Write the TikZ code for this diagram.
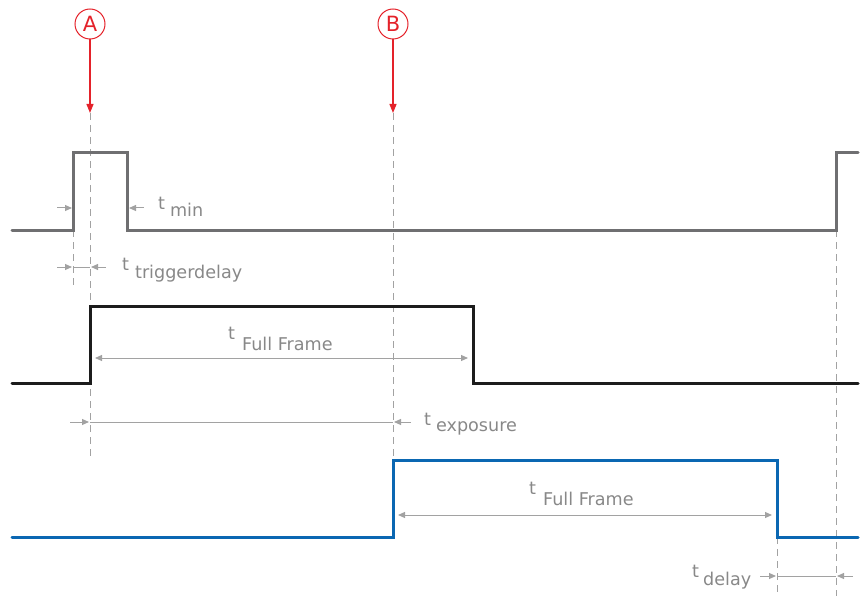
\documentclass[tikz,border=0pt]{standalone}
\usepackage{fontspec}
\setmainfont{DejaVu Sans}
\usetikzlibrary{arrows.meta}
\definecolor{sigGray}{HTML}{6F6F71}
\definecolor{sigBlack}{HTML}{1C1C1C}
\definecolor{sigBlue}{HTML}{0A67B2}
\definecolor{dimGray}{HTML}{A2A2A2}
\definecolor{txtGray}{HTML}{888888}
\definecolor{mkRed}{HTML}{E4222A}
% time label: "t" followed by a lowered name
\newcommand\tlab[3]{t\hspace{#1}\raisebox{-#2}{#3}}
\begin{document}
\begin{tikzpicture}[x=1pt,y=-1pt,
  signal/.style={line width=3pt, line join=miter, line cap=round},
  guide/.style={draw=dimGray, line width=1pt, dash pattern=on 7pt off 5pt},
  dimline/.style={draw=dimGray, line width=1pt},
  dimtip/.style={dimline, -{Triangle[length=7pt,width=6pt]}},
  dimboth/.style={dimline, {Triangle[length=7pt,width=6pt]}-{Triangle[length=7pt,width=6pt]}},
  lbl/.style={text=txtGray, font=\fontsize{17.6}{20}\selectfont, inner sep=0pt, anchor=base west},
  marker/.style={circle, draw=mkRed, line width=1pt, minimum size=30pt, inner sep=0pt,
    text=mkRed, font=\fontsize{21}{24}\selectfont},
  markarrow/.style={draw=mkRed, line width=1.2pt, -{Triangle[length=9pt,width=7pt]}}]
\useasboundingbox (0,0) rectangle (867,596);

% trigger markers
\node[marker] (mA) at (90,24) {A};
\node[marker] (mB) at (393,24) {B};
\coordinate (tipA) at (90,113);
\coordinate (tipB) at (393,113);
\draw[markarrow] (mA) -- (tipA);
\draw[markarrow] (mB) -- (tipB);

% vertical guide lines
\coordinate (gA0) at (90,113);  \coordinate (gA1) at (90,460);
\coordinate (gB0) at (393,113); \coordinate (gB1) at (393,460);
\coordinate (gR0) at (73,230);  \coordinate (gR1) at (73,286);
\coordinate (gE0) at (777,537); \coordinate (gE1) at (777,596);
\coordinate (gN0) at (836,230); \coordinate (gN1) at (836,596);
\draw[guide] (gA0) -- (gA1);
\draw[guide] (gB0) -- (gB1);
\draw[guide] (gR0) -- (gR1);
\draw[guide] (gE0) -- (gE1);
\draw[guide] (gN0) -- (gN1);

% trigger signal
\draw[signal, draw=sigGray] (12,230) -- (73,230) -- (73,153) -- (127,153) -- (127,230)
  -- (836,230) -- (836,153) -- (858,153);
% readout signal
\draw[signal, draw=sigBlack] (12,383) -- (90,383) -- (90,306) -- (473,306) -- (473,383) -- (858,383);
% second readout signal
\draw[signal, draw=sigBlue] (12,537) -- (393,537) -- (393,460) -- (777,460) -- (777,537) -- (858,537);

% t_min
\coordinate (m0) at (57,208);  \coordinate (m1) at (72,208);
\coordinate (m2) at (144,208); \coordinate (m3) at (129,208);
\draw[dimtip] (m0) -- (m1);
\draw[dimtip] (m2) -- (m3);
\node[lbl] (lmin) at (158,210) {\tlab{5pt}{7pt}{min}};

% t_triggerdelay
\coordinate (d0) at (57,267); \coordinate (d1) at (72,267);
\coordinate (d2) at (73,267); \coordinate (d3) at (90,267);
\coordinate (d4) at (106,267); \coordinate (d5) at (91,267);
\draw[dimtip] (d0) -- (d1);
\draw[dimline] (d2) -- (d3);
\draw[dimtip] (d4) -- (d5);
\node[lbl] (ltrig) at (122,270) {\tlab{6pt}{8pt}{triggerdelay}};

% t_Full Frame (first)
\coordinate (f0) at (95,358); \coordinate (f1) at (468,358);
\draw[dimboth] (f0) -- (f1);
\node[lbl] (lff1) at (228,339) {\tlab{7pt}{11pt}{Full Frame}};

% t_exposure
\coordinate (e0) at (70,422); \coordinate (e1) at (89,422);
\coordinate (e2) at (90,422); \coordinate (e3) at (393,422);
\coordinate (e4) at (411,422); \coordinate (e5) at (394,422);
\draw[dimtip] (e0) -- (e1);
\draw[dimline] (e2) -- (e3);
\draw[dimtip] (e4) -- (e5);
\node[lbl] (lexp) at (424,425) {\tlab{5pt}{6pt}{exposure}};

% t_Full Frame (second)
\coordinate (h0) at (398,515); \coordinate (h1) at (772,515);
\draw[dimboth] (h0) -- (h1);
\node[lbl] (lff2) at (529,494) {\tlab{7pt}{11pt}{Full Frame}};

% t_delay
\coordinate (y0) at (760,576); \coordinate (y1) at (776,576);
\coordinate (y2) at (777,576); \coordinate (y3) at (836,576);
\coordinate (y4) at (853,576); \coordinate (y5) at (837,576);
\draw[dimtip] (y0) -- (y1);
\draw[dimline] (y2) -- (y3);
\draw[dimtip] (y4) -- (y5);
\node[lbl] (ldel) at (692,577) {\tlab{4pt}{8pt}{delay}};
\end{tikzpicture}
\end{document}
